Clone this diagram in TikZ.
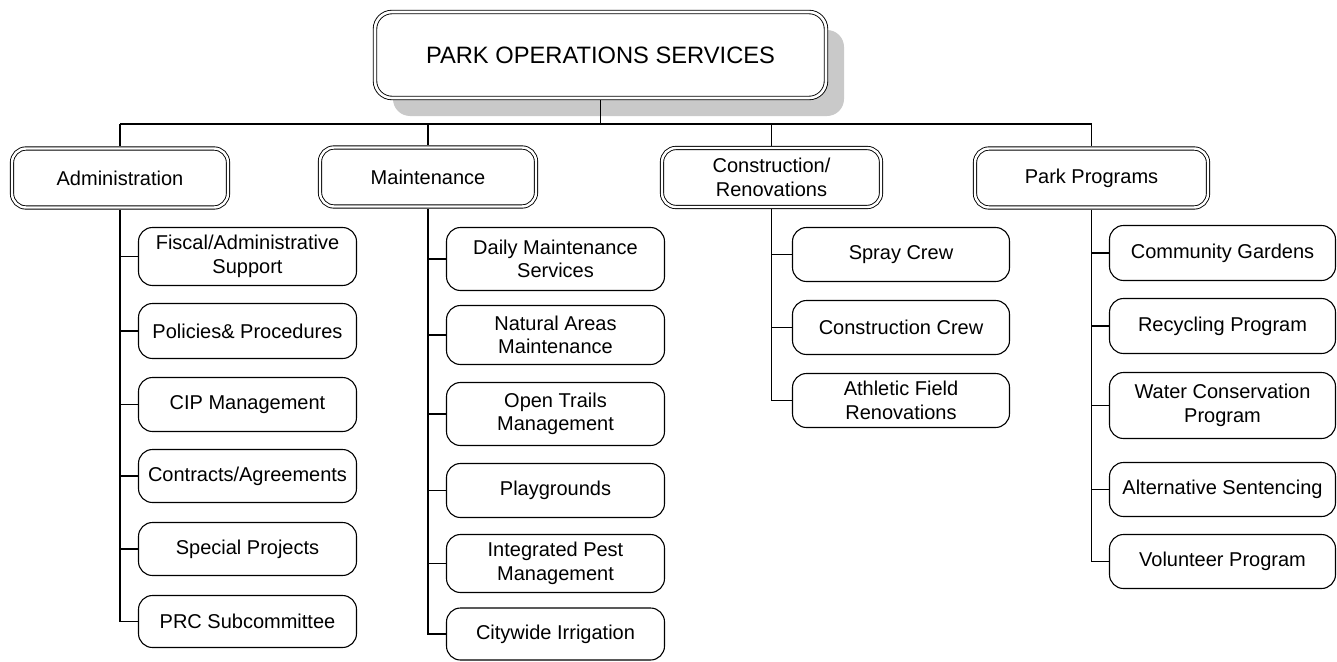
\documentclass[tikz,border=0pt]{standalone}
\usepackage{fontspec}
\setmainfont{Liberation Sans}
\usetikzlibrary{shadows}
\begin{document}
\begin{tikzpicture}[x=1pt,y=-1pt,
  topbox/.style={draw, line width=0.9pt, double, double distance=2.6pt, rounded corners=17pt, fill=white,
    minimum width=451pt, minimum height=86pt, inner sep=0pt, outer sep=2.2pt,
    font=\fontsize{23.7}{26}\selectfont,
    drop shadow={shadow xshift=18pt, shadow yshift=-18pt, fill=black!21, opacity=1}},
  midbox/.style={draw, line width=0.9pt, double, double distance=2.4pt, rounded corners=14pt, fill=white,
    minimum height=59pt, inner sep=0pt, outer sep=2.1pt, align=center,
    font=\fontsize{20}{23.5}\selectfont},
  subbox/.style={draw, line width=1.1pt, rounded corners=14pt, fill=white, inner sep=0pt, align=center,
    font=\fontsize{20}{23.5}\selectfont},
  conn/.style={draw, line width=1.1pt}]
\useasboundingbox (0,0) rectangle (1337,661);
\coordinate (bar) at (0,124);

% top
\node[topbox] (top) at (600.5,55) {PARK OPERATIONS SERVICES};

% level 2
\node[midbox, minimum width=216pt] (adm) at (120,178) {Administration};
\node[midbox, minimum width=216pt] (mnt) at (428,177) {Maintenance};
\node[midbox, minimum width=219pt] (con) at (771.5,177.5) {Construction/\\Renovations};
\node[midbox, minimum width=233pt] (prk) at (1091.5,178) {Park Programs};

% administration children
\begin{scope}[every node/.append style={subbox, minimum width=218pt}]
\node[minimum height=58pt] (fis) at (247.5,256.5) {Fiscal/Administrative\\Support};
\node[minimum height=55pt] (pol) at (247.5,331) {Policies\& Procedures};
\node[minimum height=54pt] (cip) at (247.5,404.5) {CIP Management};
\node[minimum height=53pt] (ctr) at (247.5,476) {Contracts/Agreements};
\node[minimum height=53pt] (spc) at (247.5,549) {Special Projects};
\node[minimum height=52pt] (prc) at (247.5,621.5) {PRC Subcommittee};
\end{scope}

% maintenance children
\begin{scope}[every node/.append style={subbox, minimum width=218pt}]
\node[minimum height=63pt] (dly) at (555.5,259) {Daily Maintenance\\Services};
\node[minimum height=59pt] (nat) at (555.5,335) {Natural Areas\\Maintenance};
\node[minimum height=63pt] (opn) at (555.5,414) {Open Trails\\Management};
\node[minimum height=54pt] (ply) at (555.5,490.5) {Playgrounds};
\node[minimum height=58pt] (ipm) at (555.5,563.5) {Integrated Pest\\Management};
\node[minimum height=52pt] (cwi) at (555.5,634) {Citywide Irrigation};
\end{scope}

% construction children
\begin{scope}[every node/.append style={subbox, minimum width=217pt}]
\node[minimum height=54pt] (spr) at (901,254.5) {Spray Crew};
\node[minimum height=54pt] (ccr) at (901,327.5) {Construction Crew};
\node[minimum height=54pt] (ath) at (901,400.5) {Athletic Field\\Renovations};
\end{scope}

% park programs children
\begin{scope}[every node/.append style={subbox, minimum width=226pt}]
\node[minimum height=55pt] (cgd) at (1222.5,253) {Community Gardens};
\node[minimum height=55pt] (rcy) at (1222.5,326) {Recycling Program};
\node[minimum height=66pt] (wcp) at (1222.5,405.5) {Water Conservation\\Program};
\node[minimum height=54pt] (alt) at (1222.5,489.5) {Alternative Sentencing};
\node[minimum height=54pt] (vol) at (1222.5,561.5) {Volunteer Program};
\end{scope}

% connectors top level
\draw[conn] (top.south) -- (top.south |- bar);
\draw[conn] (adm.north |- bar) -- (prk.north |- bar);
\foreach \n in {adm,mnt,con,prk} \draw[conn] (\n.north |- bar) -- (\n.north);

% trunks
\draw[conn] (adm.south) |- (prc.west);
\foreach \c in {fis,pol,cip,ctr,spc} \draw[conn] (adm.south |- \c.west) -- (\c.west);
\draw[conn] (mnt.south) |- (cwi.west);
\foreach \c in {dly,nat,opn,ply,ipm} \draw[conn] (mnt.south |- \c.west) -- (\c.west);
\draw[conn] (con.south) |- (ath.west);
\foreach \c in {spr,ccr} \draw[conn] (con.south |- \c.west) -- (\c.west);
\draw[conn] (prk.south) |- (vol.west);
\foreach \c in {cgd,rcy,wcp,alt} \draw[conn] (prk.south |- \c.west) -- (\c.west);
\end{tikzpicture}
\end{document}
